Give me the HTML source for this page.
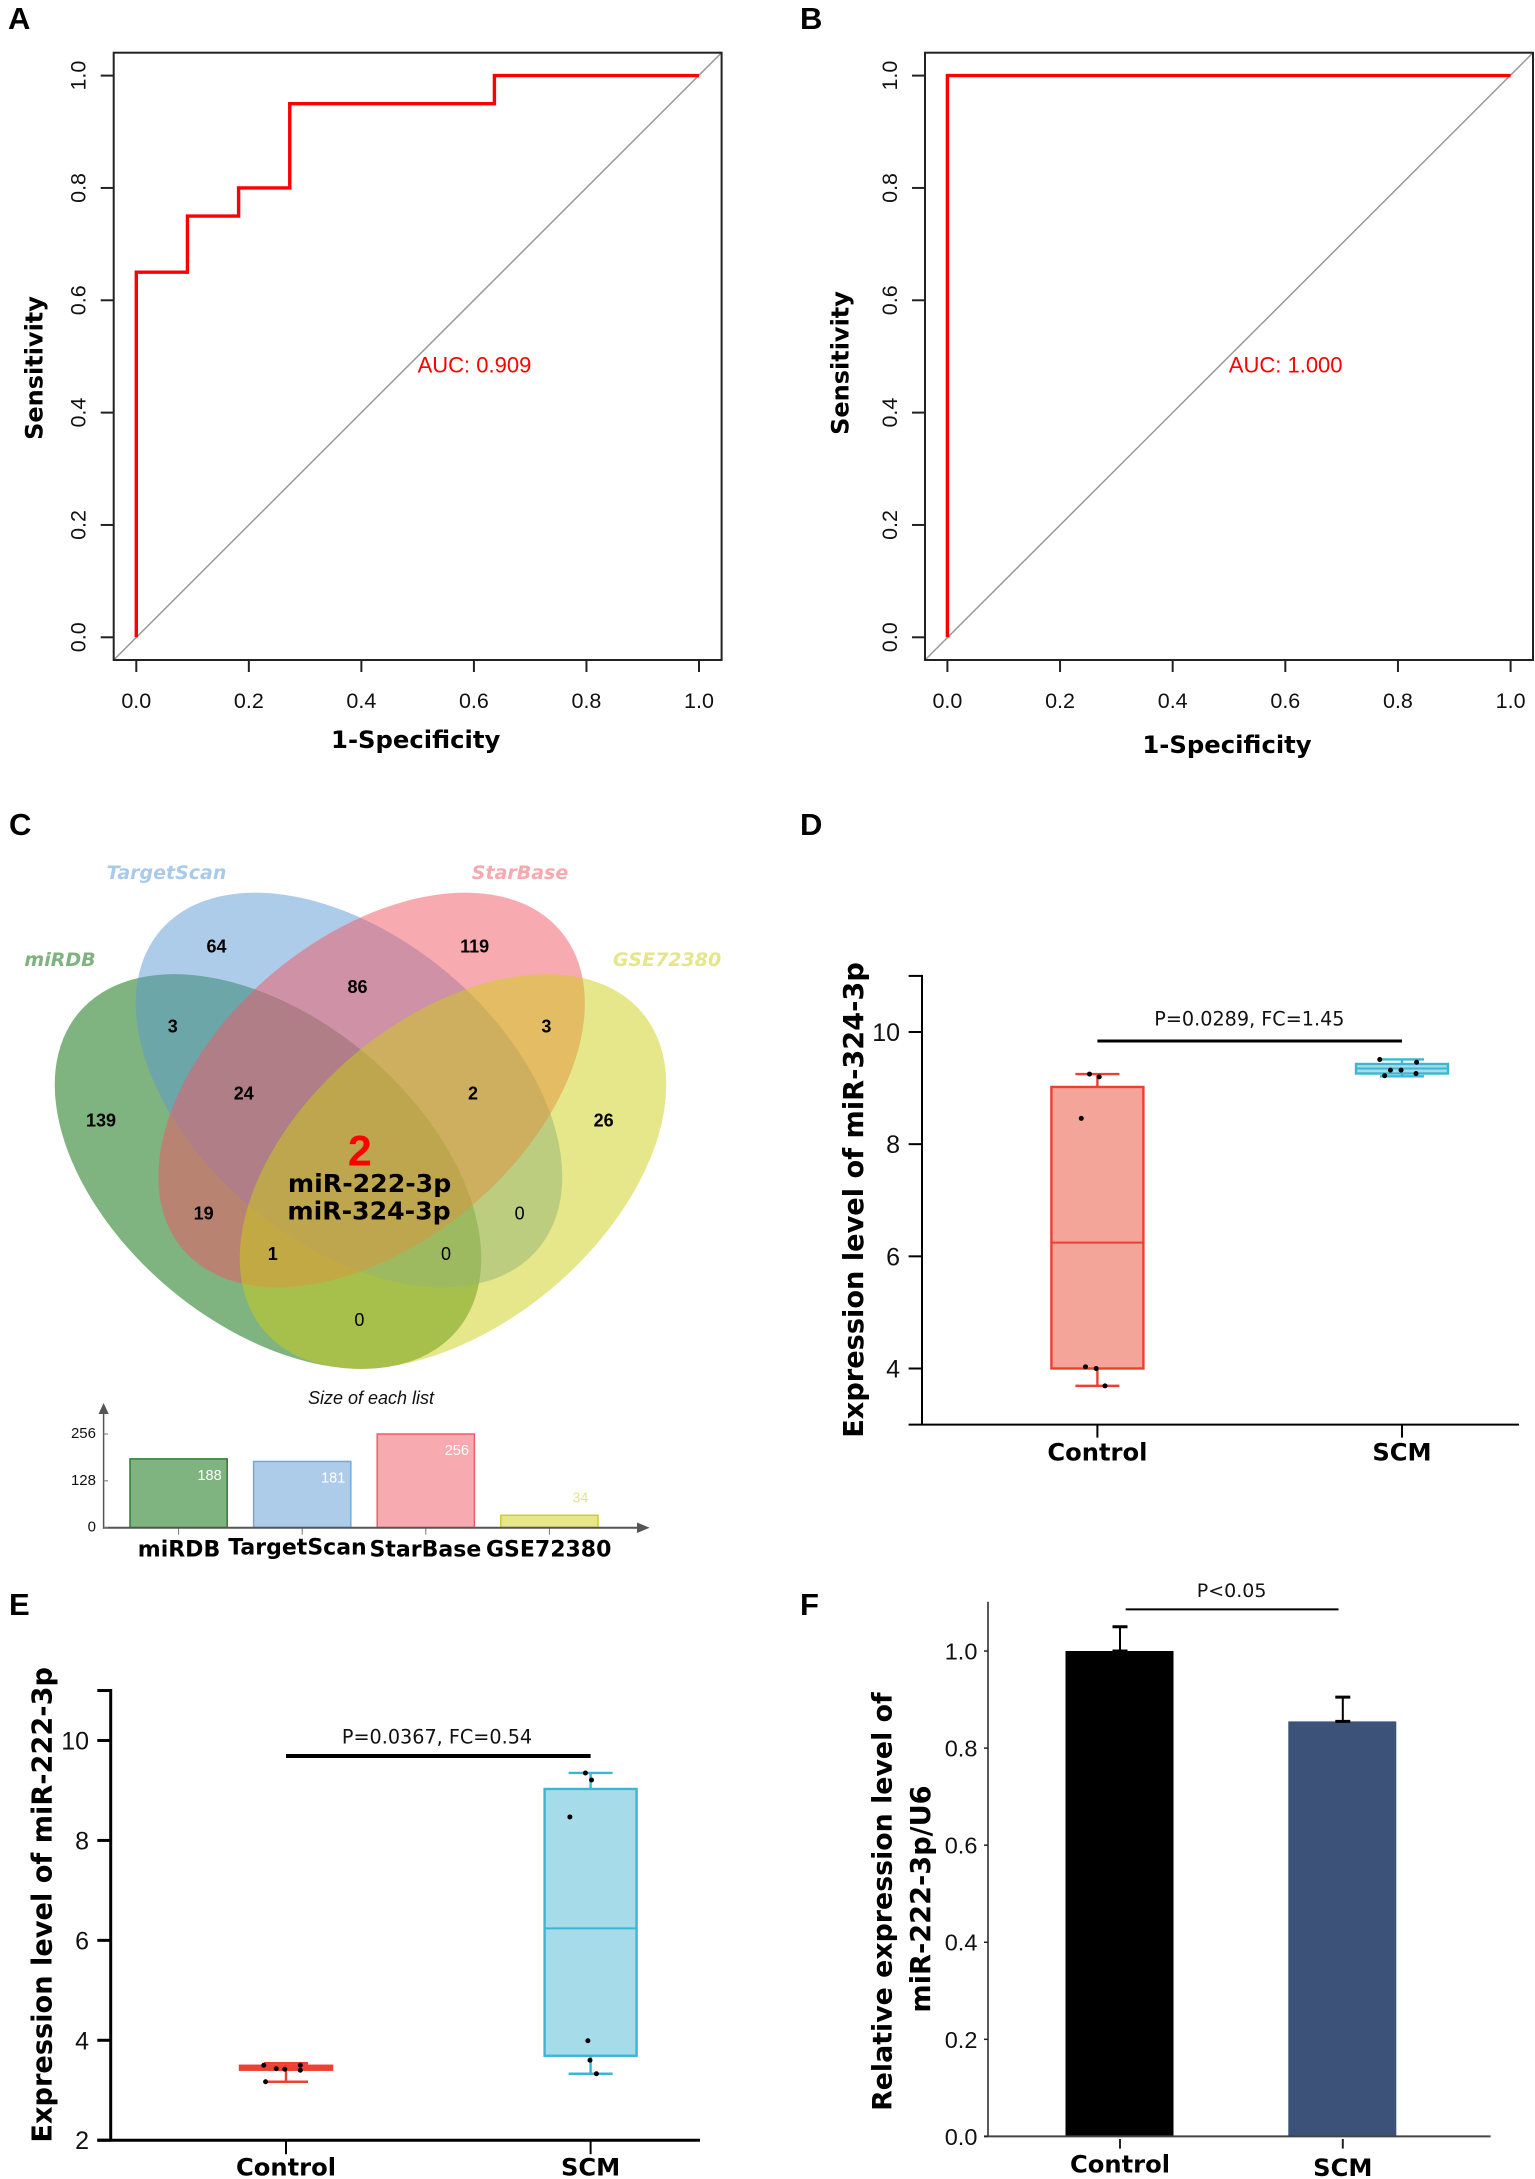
<!DOCTYPE html>
<html lang="en">
<head>
<meta charset="utf-8">
<title>miRNA ROC, Venn and expression panels</title>
<style>
html,body{margin:0;padding:0;background:#fff}
svg{display:block}
.pl{font:bold 31px "Liberation Sans",sans-serif;fill:#000}
.dj{font-family:"DejaVu Sans",sans-serif;font-weight:bold;fill:#000}
.ls{font-family:"Liberation Sans",sans-serif;fill:#111}
.ct{font:bold 18px "Liberation Sans",sans-serif;fill:#000;text-anchor:middle}
.ct0{font:18px "Liberation Sans",sans-serif;fill:#000;text-anchor:middle}
.vl{font:italic bold 19px "DejaVu Sans",sans-serif;text-anchor:middle}
</style>
</head>
<body>
<svg id="fig" xmlns="http://www.w3.org/2000/svg" width="1535" height="2179" viewBox="0 0 1535 2179">
<rect x="0" y="0" width="1535" height="2179" fill="#fff"/>

<text class="pl" x="8" y="29">A</text>
<text class="pl" x="800" y="29">B</text>
<text class="pl" x="9" y="835">C</text>
<text class="pl" x="800" y="835">D</text>
<text class="pl" x="9" y="1615">E</text>
<text class="pl" x="800" y="1615">F</text>

<g id="rocA"></g>
<g id="rocB"></g>

<text class="dj" x="415.7" y="748" font-size="24.3" text-anchor="middle">1-Specificity</text>
<text class="dj" transform="translate(42.5,368) rotate(-90)" font-size="24" text-anchor="middle">Sensitivity</text>
<text class="ls" x="417.6" y="372.5" font-size="22" style="fill:#f00">AUC: 0.909</text>
<text class="dj" x="1227" y="753" font-size="24.3" text-anchor="middle">1-Specificity</text>
<text class="dj" transform="translate(848.5,363) rotate(-90)" font-size="24" text-anchor="middle">Sensitivity</text>
<text class="ls" x="1228.8" y="372.5" font-size="22" style="fill:#f00">AUC: 1.000</text>

<g>
  <ellipse cx="268" cy="1171.5" rx="247" ry="153" transform="rotate(40 268 1171.5)" fill="#006700" fill-opacity="0.5"/>
  <ellipse cx="349" cy="1090" rx="247" ry="153" transform="rotate(40 349 1090)" fill="#5b99d3" fill-opacity="0.5"/>
  <ellipse cx="371.6" cy="1090" rx="247" ry="153" transform="rotate(-40 371.6 1090)" fill="#f15563" fill-opacity="0.5"/>
  <ellipse cx="453" cy="1171.5" rx="247" ry="153" transform="rotate(-40 453 1171.5)" fill="#cdcd17" fill-opacity="0.5"/>
  <text class="vl" x="166.5" y="879" fill="#a9cbe9">TargetScan</text>
  <text class="vl" x="520" y="879" fill="#f7a9b0">StarBase</text>
  <text class="vl" x="60" y="966" fill="#7fb27f">miRDB</text>
  <text class="vl" x="667" y="966" fill="#e5e58a">GSE72380</text>
  <text class="ct" x="216.5" y="952.5">64</text>
  <text class="ct" x="474.6" y="952.5">119</text>
  <text class="ct" x="357.5" y="993">86</text>
  <text class="ct" x="172.8" y="1032.5">3</text>
  <text class="ct" x="546.4" y="1032.5">3</text>
  <text class="ct" x="243.8" y="1099.5">24</text>
  <text class="ct" x="473" y="1099.5">2</text>
  <text class="ct" x="101" y="1126.5">139</text>
  <text class="ct" x="603.6" y="1126.5">26</text>
  <text class="ct" x="203.6" y="1219.5">19</text>
  <text class="ct0" x="519.6" y="1219.5">0</text>
  <text class="ct" x="272.8" y="1260">1</text>
  <text class="ct0" x="446" y="1260">0</text>
  <text class="ct0" x="359.4" y="1326">0</text>
  <text x="359.8" y="1165.5" text-anchor="middle" fill="#f00" style="font:bold 43px 'Liberation Sans',sans-serif">2</text>
  <text class="dj" x="369.6" y="1192" font-size="25.2" text-anchor="middle">miR-222-3p</text>
  <text class="dj" x="369" y="1219.5" font-size="25.2" text-anchor="middle">miR-324-3p</text>
</g>

<g id="listChart">
  <text class="ls" x="371" y="1404" font-size="18" font-style="italic" text-anchor="middle">Size of each list</text>
</g>
<text class="dj" x="179" y="1556.5" font-size="22" text-anchor="middle">miRDB</text>
<text class="dj" x="297.5" y="1554.5" font-size="22" text-anchor="middle">TargetScan</text>
<text class="dj" x="425.4" y="1556.5" font-size="22" text-anchor="middle">StarBase</text>
<text class="dj" x="548.7" y="1556.5" font-size="22" text-anchor="middle">GSE72380</text>

<g id="boxD"></g>
<text class="dj" transform="translate(862.8,1200) rotate(-90)" font-size="27.2" text-anchor="middle">Expression level of miR-324-3p</text>
<text x="1249.4" y="1025.5" font-size="19.2" text-anchor="middle" style="font-family:'DejaVu Sans',sans-serif" fill="#111">P=0.0289, FC=1.45</text>

<g id="boxE"></g>
<text class="dj" transform="translate(51.3,1904.8) rotate(-90)" font-size="27.2" text-anchor="middle">Expression level of miR-222-3p</text>
<text x="437" y="1743.5" font-size="19.2" text-anchor="middle" style="font-family:'DejaVu Sans',sans-serif" fill="#111">P=0.0367, FC=0.54</text>

<g id="barF"></g>
<text class="dj" transform="translate(891.7,1901.6) rotate(-90)" font-size="26.8" text-anchor="middle">Relative expression level of</text>
<text class="dj" transform="translate(930,1899) rotate(-90)" font-size="27.2" text-anchor="middle">miR-222-3p/U6</text>
<text x="1231.6" y="1597.2" font-size="19" text-anchor="middle" style="font-family:'DejaVu Sans',sans-serif" fill="#111">P&lt;0.05</text>
</svg>

<script>
// ROC data
const rocTicks = [0, 0.2, 0.4, 0.6, 0.8, 1];
const rocAFpr = [0, 0, 0.0909, 0.0909, 0.1818, 0.1818, 0.2727, 0.2727, 0.6364, 0.6364, 1];
const rocATpr = [0, 0.65, 0.65, 0.75, 0.75, 0.8, 0.8, 0.95, 0.95, 1, 1];
const rocBFpr = [0, 0, 1];
const rocBTpr = [0, 1, 1];

// List size bar data
const listNames = ['miRDB', 'TargetScan', 'StarBase', 'GSE72380'];
const listSizes = [188, 181, 256, 34];
const listTicks = [0, 128, 256];

// Box plot D data: [low whisker, Q1, median, Q3, high whisker]
const boxGroups = ['Control', 'SCM'];
const dTicks = [4, 6, 8, 10];
const dControlStats = [3.69, 4.0, 6.245, 9.02, 9.25];
const dScmStats = [9.21, 9.26, 9.35, 9.43, 9.51];
const dControlPoints = [9.25, 9.2, 8.46, 4.03, 4.0, 3.69];
const dControlJitter = [-0.026, 0.006, -0.053, -0.039, -0.004, 0.025];
const dScmPoints = [9.51, 9.32, 9.32, 9.46, 9.26, 9.22];
const dScmJitter = [-0.073, -0.038, -0.003, 0.048, 0.046, -0.057];
const dSignificance = 9.84;

// Box plot E data
const eTicks = [2, 4, 6, 8, 10];
const eControlStats = [3.17, 3.41, 3.45, 3.49, 3.54];
const eScmStats = [3.33, 3.69, 6.24, 9.03, 9.35];
const eControlPoints = [3.5, 3.43, 3.42, 3.5, 3.4, 3.17];
const eControlJitter = [-0.073, -0.032, -0.004, 0.047, 0.047, -0.067];
const eScmPoints = [9.35, 9.21, 8.47, 3.99, 3.6, 3.33];
const eScmJitter = [-0.017, 0.003, -0.068, -0.009, -0.002, 0.019];
const eSignificance = 9.69;

// Bar chart F data
const fTicks = [0, 0.2, 0.4, 0.6, 0.8, 1];
const fMeans = [1, 0.855];
const fErrors = [0.05, 0.05];

const NS = 'http://www.w3.org/2000/svg';
function mk(parent, tag, attrs, text) {
  const el = document.createElementNS(NS, tag);
  for (const k in attrs) el.setAttribute(k, attrs[k]);
  if (text !== undefined) el.textContent = text;
  parent.appendChild(el);
  return el;
}
function linear(d0, d1, r0, r1) {
  return function (v) { return r0 + (v - d0) * (r1 - r0) / (d1 - d0); };
}
const SANS = '"Liberation Sans",sans-serif';
const DEJA = '"DejaVu Sans",sans-serif';

function drawRoc(g, prefix, L, R, x0, x1, fpr, tpr) {
  const T = 52.7, B = 660;
  const sx = linear(0, 1, x0, x1);
  const sy = linear(0, 1, 637.3, 75.6);
  const diag = mk(g, 'line', {x1: L, y1: B, x2: R, y2: T, stroke: '#999', 'stroke-width': 1.5});
  
  
  const frame = mk(g, 'rect', {x: L, y: T, width: R - L, height: B - T, fill: 'none', stroke: '#222', 'stroke-width': 2});
  
  
  rocTicks.forEach(function (t) {
    const xt = mk(g, 'line', {x1: sx(t), y1: B, x2: sx(t), y2: B + 12, stroke: '#222', 'stroke-width': 2});
    
    
    const xl = mk(g, 'text', {x: sx(t), y: 708, 'text-anchor': 'middle', 'font-size': 21.5, 'font-family': SANS, fill: '#111'}, t.toFixed(1));
    
    
    const yt = mk(g, 'line', {x1: L - 13, y1: sy(t), x2: L, y2: sy(t), stroke: '#222', 'stroke-width': 2});
    
    
    const yl = mk(g, 'text', {transform: 'translate(' + (L - 28) + ',' + sy(t) + ') rotate(-90)', 'text-anchor': 'middle', 'font-size': 21.5, 'font-family': SANS, fill: '#111'}, t.toFixed(1));
    
    
  });
  const pts = fpr.map(function (f, i) { return sx(f) + ',' + sy(tpr[i]); }).join(' ');
  const curve = mk(g, 'polyline', {points: pts, fill: 'none', stroke: '#f00', 'stroke-width': 3.4, 'stroke-linejoin': 'miter'});
  
  
}
drawRoc(document.getElementById('rocA'), 'roc-a', 113.7, 721.6, 136.3, 699, rocAFpr, rocATpr);
drawRoc(document.getElementById('rocB'), 'roc-b', 925, 1533, 947.4, 1510.6, rocBFpr, rocBTpr);

// List size chart
(function () {
  const g = document.getElementById('listChart');
  const base = 1527.7;
  const sy = linear(0, 256, base, 1434);
  const sx = function (i) { return 178.6 + i * 123.6; };
  const fills = ['#7fb37f', '#adcce9', '#f8aab1', '#e6e68b'];
  const strokes = ['#2e7d32', '#6fa8dc', '#f25c6a', '#cdcd30'];
  listSizes.forEach(function (v, i) {
    const bar = mk(g, 'rect', {x: sx(i) - 48.6, y: sy(v), width: 97.2, height: base - sy(v), fill: fills[i], stroke: strokes[i], 'stroke-width': 1.5});
    
    
    const small = v < 64;
    const lab = mk(g, 'text', {x: sx(i) + 31, y: small ? sy(v) - 13 : sy(v) + 21, 'text-anchor': 'middle', 'font-size': 14.5, 'font-family': SANS, fill: small ? '#e5e58a' : '#fff'}, String(v));
    
    
    const tk = mk(g, 'line', {x1: sx(i), y1: base, x2: sx(i), y2: base + 7, stroke: '#777', 'stroke-width': 1});
    
    
  });
  const ya = mk(g, 'line', {x1: 103.6, y1: 1410, x2: 103.6, y2: base + 1, stroke: '#555', 'stroke-width': 1.5});
  
  
  const yh = mk(g, 'polygon', {points: '103.6,1403 98.5,1414 108.7,1414', fill: '#555'});
  
  
  const xa = mk(g, 'line', {x1: 103, y1: base, x2: 640, y2: base, stroke: '#555', 'stroke-width': 2});
  
  
  const xh = mk(g, 'polygon', {points: '649.6,1527.7 637,1522.5 637,1533', fill: '#555'});
  
  
  listTicks.forEach(function (t) {
    const tk = mk(g, 'line', {x1: 103.6, y1: sy(t), x2: 108, y2: sy(t), stroke: '#777', 'stroke-width': 1});
    
    
    const tl = mk(g, 'text', {x: 96, y: sy(t) + 4, 'text-anchor': 'end', 'font-size': 15, 'font-family': SANS, fill: '#111'}, String(t));
    
    
  });
})();

function drawBox(g, name, cx, spacing, halfW, stats, points, jitter, fill, stroke, sy) {
  const whisk = mk(g, 'path', {d: 'M' + cx + ' ' + sy(stats[0]) + 'V' + sy(stats[1]) + 'M' + cx + ' ' + sy(stats[3]) + 'V' + sy(stats[4]) + 'M' + (cx - 22) + ' ' + sy(stats[0]) + 'H' + (cx + 22) + 'M' + (cx - 22) + ' ' + sy(stats[4]) + 'H' + (cx + 22), fill: 'none', stroke: stroke, 'stroke-width': 2.4});
  
  
  const box = mk(g, 'rect', {x: cx - halfW, y: sy(stats[3]), width: 2 * halfW, height: sy(stats[1]) - sy(stats[3]), fill: fill, stroke: stroke, 'stroke-width': 2.4});
  
  
  const med = mk(g, 'line', {x1: cx - halfW, y1: sy(stats[2]), x2: cx + halfW, y2: sy(stats[2]), stroke: stroke, 'stroke-width': 2});
  
  
  points.forEach(function (v, i) {
    const p = mk(g, 'circle', {cx: cx + jitter[i] * spacing, cy: sy(v), r: 2.5, fill: '#000'});
    
    
  });
}

function drawBoxAxes(g, prefix, axisX, tickX, labelRight, yTop, yBottom, xEnd, cx, ticks, extraTicks, sy, sw, labY, tickLen) {
  const ya = mk(g, 'line', {x1: axisX, y1: yTop - sw / 2, x2: axisX, y2: yBottom, stroke: '#000', 'stroke-width': sw});
  
  
  const xa = mk(g, 'line', {x1: tickX, y1: yBottom, x2: xEnd, y2: yBottom, stroke: '#000', 'stroke-width': sw});
  
  
  ticks.concat(extraTicks).forEach(function (t) {
    const tk = mk(g, 'line', {x1: tickX, y1: sy(t), x2: axisX, y2: sy(t), stroke: '#000', 'stroke-width': sw});
    
    
  });
  ticks.forEach(function (t) {
    const tl = mk(g, 'text', {x: labelRight, y: sy(t) + 9, 'text-anchor': 'end', 'font-size': 25, 'font-family': SANS, fill: '#111'}, String(t));
    
    
  });
  boxGroups.forEach(function (name, i) {
    const tk = mk(g, 'line', {x1: cx[i], y1: yBottom, x2: cx[i], y2: yBottom + tickLen, stroke: '#000', 'stroke-width': 2});
    
    
    const tl = mk(g, 'text', {x: cx[i], y: labY, 'text-anchor': 'middle', 'font-size': 24.2, 'font-weight': 'bold', 'font-family': DEJA, fill: '#000'}, name);
    
    
  });
}

// Panel D
(function () {
  const g = document.getElementById('boxD');
  const sy = linear(4, 10, 1368.5, 1032);
  const cx = [1097.4, 1402];
  const spacing = cx[1] - cx[0];
  drawBox(g, 'boxplot-d-control', cx[0], spacing, 46, dControlStats, dControlPoints, dControlJitter, '#f4a59a', '#ee4031', sy);
  drawBox(g, 'boxplot-d-scm', cx[1], spacing, 46, dScmStats, dScmPoints, dScmJitter, '#a6dcea', '#3cb6d3', sy);
  drawBoxAxes(g, 'boxplot-d', 922, 908.6, 900, sy(11), sy(3), 1519, cx, dTicks, [11], sy, 2, 1460.5, 13);
  const sig = mk(g, 'line', {x1: cx[0], y1: sy(dSignificance), x2: cx[1], y2: sy(dSignificance), stroke: '#000', 'stroke-width': 3});
  
  
})();

// Panel E
(function () {
  const g = document.getElementById('boxE');
  const sy = linear(2, 10, 2140.2, 1740.5);
  const cx = [286, 590.6];
  const spacing = cx[1] - cx[0];
  drawBox(g, 'boxplot-e-control', cx[0], spacing, 46, eControlStats, eControlPoints, eControlJitter, '#f4a59a', '#ee4031', sy);
  drawBox(g, 'boxplot-e-scm', cx[1], spacing, 46, eScmStats, eScmPoints, eScmJitter, '#a6dcea', '#3cb6d3', sy);
  drawBoxAxes(g, 'boxplot-e', 110.7, 97.3, 89, sy(11), sy(2), 700, cx, eTicks, [11], sy, 3, 2175.5, 14);
  const sig = mk(g, 'line', {x1: cx[0], y1: sy(eSignificance), x2: cx[1], y2: sy(eSignificance), stroke: '#000', 'stroke-width': 4});
  
  
})();

// Panel F
(function () {
  const g = document.getElementById('barF');
  const sy = linear(0, 1, 2136.4, 1651);
  const cx = [1119.5, 1342.3];
  const fills = ['#000000', '#3c5278'];
  const labY = [2172.5, 2176];
  boxGroups.forEach(function (name, i) {
    const bar = mk(g, 'rect', {x: cx[i] - 54, y: sy(fMeans[i]), width: 108, height: sy(0) - sy(fMeans[i]), fill: fills[i]});
    
    
    const top = sy(fMeans[i] + fErrors[i]);
    const err = mk(g, 'path', {d: 'M' + (cx[i] + 0.5) + ' ' + sy(fMeans[i]) + 'V' + top, fill: 'none', stroke: '#000', 'stroke-width': 2});
    
    
    const cap = mk(g, 'path', {d: 'M' + (cx[i] - 7) + ' ' + top + 'H' + (cx[i] + 8) + 'M' + (cx[i] - 7) + ' ' + sy(fMeans[i]) + 'H' + (cx[i] + 8), fill: 'none', stroke: '#000', 'stroke-width': 3});
    
    
    const tk = mk(g, 'line', {x1: cx[i] + 0.5, y1: 2139, x2: cx[i] + 0.5, y2: 2148.6, stroke: '#222', 'stroke-width': 2});
    
    
    const tl = mk(g, 'text', {x: cx[i] + 0.5, y: labY[i], 'text-anchor': 'middle', 'font-size': 24.2, 'font-weight': 'bold', 'font-family': DEJA, fill: '#000'}, name);
    
    
  });
  const ya = mk(g, 'line', {x1: 988, y1: 1601.8, x2: 988, y2: 2136.4, stroke: '#222', 'stroke-width': 1.5});
  
  
  const xa = mk(g, 'line', {x1: 984, y1: 2136.4, x2: 1490.6, y2: 2136.4, stroke: '#444', 'stroke-width': 2});
  
  
  fTicks.forEach(function (t) {
    const tk = mk(g, 'line', {x1: 984, y1: sy(t), x2: 988, y2: sy(t), stroke: '#222', 'stroke-width': 1.5});
    
    
    const tl = mk(g, 'text', {x: 977.4, y: sy(t) + 8.5, 'text-anchor': 'end', 'font-size': 23.5, 'font-family': SANS, fill: '#111'}, t.toFixed(1));
    
    
  });
  const sig = mk(g, 'line', {x1: 1125.7, y1: 1609.4, x2: 1338.5, y2: 1609.4, stroke: '#000', 'stroke-width': 2});
  
  
})();
</script>
</body>
</html>
